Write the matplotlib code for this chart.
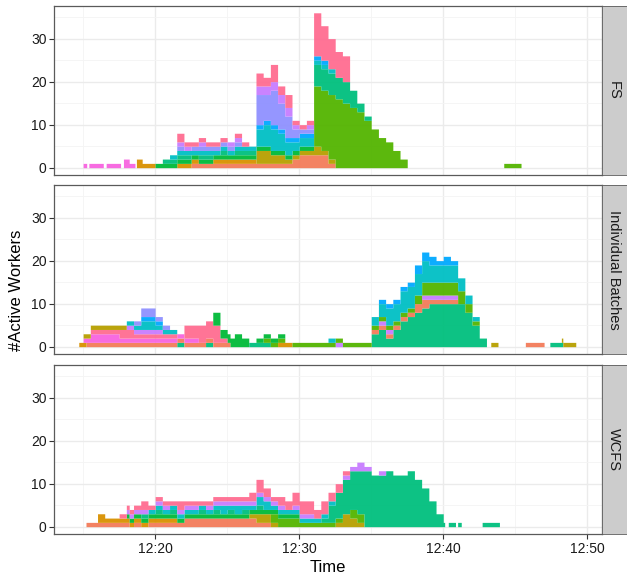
import numpy as np
import matplotlib
matplotlib.use("Agg")
import matplotlib.pyplot as plt
from matplotlib.ticker import FixedLocator, FuncFormatter

plt.rcParams['font.family'] = ['Liberation Sans', 'DejaVu Sans']

# ---------------- data (minutes after 12:00, #active workers per batch) ----
PANELS = ["FS", "Individual Batches", "WCFS"]
X_TICKS = [20, 30, 40, 50]
Y_TICKS = [0, 10, 20, 30]

COLORS = {
    "O": "#F37B59", "D": "#D89000", "G": "#B79F00", "Y": "#53B400",
    "E": "#00BA38", "T": "#00BF7D", "C": "#00BFC4", "S": "#00A9FF",
    "P": "#8F91FF", "V": "#C77CFF", "M": "#F763E0", "R": "#FF6C91",
}

# segments: (start minute, values per 0.5-min bin[, bin width])
FS_M = [(15.0, [1], 0.25), (15.4, [1, 1]), (16.6, [1, 1]), (17.8, [2, 1], 0.4)]
FS_D = [(18.7, [2], 0.4), (19.1, [1, 1], 0.45),
        (21.5, [1, 1, 1, 0, 0, 1, 1, 1, 1, 1, 1])]
FS_O = [(22.5, [1, 1, 1, 1, 1, 1, 1, 1, 1, 1, 1, 1, 1, 1, 2, 3, 3, 3, 3, 1])]
FS_G = [(27.0, [3, 3, 2, 2, 1, 1, 1, 1, 2, 1, 1])]
FS_Y = [(31.0, [14, 14, 15, 16, 15, 14, 13, 11, 9, 7, 6, 4, 2]), (44.2, [1, 1], 0.6)]
FS_E = [(20.0, [1] * 22)]
FS_T = [(20.5, [1, 1, 1, 1, 0, 1, 1, 0, 1, 0, 1, 1, 1]),
        (31.0, [5, 5, 5, 5, 5, 4, 2, 1])]
FS_C = [(21.0, [1, 1, 1, 1, 1, 1, 1, 1, 1, 1, 1, 1, 4, 5, 5, 4, 3, 2, 2, 2, 1, 1, 1])]
FS_S = [(27.0, [1, 1, 1, 1, 1, 1, 1, 1, 1, 1])]
FS_P = [(21.5, [1, 0, 1, 1, 1, 1, 1, 1, 1, 0, 0, 7, 6, 8, 6, 5, 2, 1, 1])]
FS_V = [(21.5, [1, 1, 0, 1, 0, 0, 0, 1, 1, 0, 0, 2, 2, 2, 2, 2, 1, 0, 1])]
FS_R = [(21.5, [2, 1, 1, 1, 1, 1, 1, 0, 1, 1, 0, 3, 2, 4, 2, 3, 1, 1, 1, 10, 8, 7, 6, 6])]

IB_T = [(21.5, [1]), (23.5, [1]), (26.5, [1, 1, 1]),
        (35.0, [3, 4, 2, 4, 6, 7, 8, 9, 10, 10, 10, 10, 10, 8, 5, 2]),
        (47.4, [1, 1], 0.45)]
IB_O = [(15.2, [1] * 20), (35.0, [1, 1, 1, 1, 1, 1, 2, 2, 1, 1, 1, 1]),
        (45.7, [1, 1], 0.65)]
IB_D = [(14.7, [1]), (28.5, [1, 1])]
IB_M = [(15.0, [1, 2, 2, 2, 2, 1, 1, 1, 1, 1, 1, 1, 1, 1, 1, 1])]
IB_R = [(15.5, [1, 1, 1, 1, 2, 2, 1, 1, 1, 1, 1, 1, 0, 3, 3, 4, 4, 4, 1])]
IB_G = [(15.0, [1, 1, 1, 1, 1, 1]), (43.3, [1]), (48.2, [1, 1])]
IB_V = [(18.0, [1, 1, 1, 1, 1]), (32.5, [1]),
        (35.5, [1, 1, 0, 0, 0, 0, 1, 1, 1, 1, 1])]
IB_Y = [(27.5, [1, 1, 1, 0, 1, 1, 1, 1, 1, 1, 1, 1, 1, 1, 1]),
        (35.0, [1, 1, 1, 1, 1, 1, 2, 3, 3, 3, 3, 3, 3, 2, 1])]
IB_E = [(24.0, [3, 2, 2, 3, 2]), (27.0, [1, 1, 1, 1])]
IB_C = [(18.0, [1, 1, 2, 2, 1, 1, 1]), (32.0, [1]),
        (35.0, [2, 3, 4, 4, 5, 5, 5, 5, 4, 4, 4, 4, 3, 2, 1])]
IB_S = [(19.0, [1, 1, 1]), (35.5, [1, 1, 1, 1, 1, 2, 2, 2, 1, 2, 1])]
IB_P = [(18.5, [1, 2, 2, 1, 1])]

W_O = [(15.2, [1, 1, 1, 1, 1, 1]),
       (18.5, [1, 0, 1, 1, 1, 1, 1, 2, 2, 2, 2, 2, 2, 2, 2, 2, 2, 1, 1])]
W_D = [(16.0, [2, 1, 1, 1, 1, 1, 1, 1, 1, 1, 1])]
W_G = [(26.5, [1, 2, 2, 1]), (32.5, [1, 3, 2, 1])]
W_Y = [(28.0, [2, 2, 2, 2, 1, 1, 1, 1, 1, 1]), (33.5, [2, 2])]
W_E = [(18.0, [1] * 24)]
W_T = [(19.0, [1]), (20.0, [1]), (21.0, [1]), (23.0, [1]), (24.0, [1]),
       (25.0, [1]), (26.0, [1]), (27.0, [1]),
       (31.5, [1, 4, 6, 8, 9, 10, 13, 12, 12, 13, 12, 12, 13, 11, 9, 6, 3]),
       (40.0, [1], 0.1), (40.35, [1], 0.5), (41.0, [1], 0.25), (42.7, [1], 1.2)]
W_C = [(19.5, [1, 1, 1, 1, 1, 1, 1, 1, 1, 1, 2, 1, 2, 1, 1, 2, 2, 1, 1, 1,
               1, 1, 1, 1, 1, 1])]
W_V = [(18.0, [1, 1, 1, 0, 1, 1, 0, 1, 1, 1, 0, 1, 1, 1, 1, 1, 1, 1, 1, 1,
               1, 1, 0, 1, 1, 1, 0, 0, 0, 0, 1, 1, 2, 1, 0, 1])]
W_R = [(17.5, [1, 1, 1, 2, 1, 1, 1, 1, 2, 1, 1, 1, 1, 1, 1, 1, 1, 1, 2, 3,
               2, 1, 2, 2, 3, 3, 3, 2, 3, 2, 2, 1])]

STACKS = {
    "FS": [("O", FS_O), ("D", FS_D), ("G", FS_G), ("Y", FS_Y), ("E", FS_E),
           ("T", FS_T), ("C", FS_C), ("S", FS_S), ("P", FS_P), ("V", FS_V),
           ("M", FS_M), ("R", FS_R)],
    "Individual Batches": [("T", IB_T), ("O", IB_O), ("D", IB_D), ("M", IB_M),
                           ("R", IB_R), ("G", IB_G), ("V", IB_V), ("Y", IB_Y),
                           ("E", IB_E), ("C", IB_C), ("S", IB_S), ("P", IB_P)],
    "WCFS": [("O", W_O), ("D", W_D), ("G", W_G), ("Y", W_Y), ("E", W_E),
             ("T", W_T), ("C", W_C), ("V", W_V), ("R", W_R)],
}

# ---------------- rendering -------------------------------------------------
FINE = 0.05
tf = np.round(np.arange(14.0, 50.5, FINE), 3)
edges = np.append(tf, tf[-1] + FINE)


def layer_values(segments):
    v = np.zeros(len(tf))
    for seg in segments:
        start, vals = seg[0], seg[1]
        step = seg[2] if len(seg) > 2 else 0.5
        for k, val in enumerate(vals):
            a = start + k * step
            mask = (tf >= a - 1e-6) & (tf < a + step - 1e-6)
            v[mask] = val
    return v


W, H = 627, 576
fig = plt.figure(figsize=(W / 100, H / 100), dpi=100)
left, right, strip_r = 54.3, 601.7, 626.5
tops = [5.7, 184.7, 364.7]
ph = 169.5
border = "#5A5A5A"

for k, name in enumerate(PANELS):
    rect = [left / W, 1 - (tops[k] + ph) / H, (right - left) / W, ph / H]
    ax = fig.add_axes(rect)
    cum = np.zeros(len(tf))
    for key, segs in STACKS[name]:
        v = layer_values(segs)
        lo = np.append(cum, cum[-1])
        hi = np.append(cum + v, (cum + v)[-1])
        ax.fill_between(edges, lo, hi, step='post', color=COLORS[key],
                        alpha=0.95, linewidth=0, zorder=2)
        cum = cum + v
    ax.set_xlim(13.0, 51.0)
    ax.set_ylim(-1.75, 37.65)
    ax.xaxis.set_major_locator(FixedLocator(X_TICKS))
    ax.xaxis.set_minor_locator(FixedLocator([15, 25, 35, 45]))
    ax.yaxis.set_major_locator(FixedLocator(Y_TICKS))
    ax.yaxis.set_minor_locator(FixedLocator([5, 15, 25, 35]))
    ax.grid(which='major', color='#EBEBEB', linewidth=1.0, zorder=0)
    ax.grid(which='minor', color='#F4F4F4', linewidth=0.6, zorder=0)
    ax.set_axisbelow(True)
    for sp in ax.spines.values():
        sp.set_color(border)
        sp.set_linewidth(0.9)
    ax.tick_params(which='minor', length=0)
    ax.tick_params(axis='y', which='major', length=3.5, width=0.8,
                   color='#333333', labelsize=10, labelcolor='#1A1A1A', pad=2)
    if k == len(PANELS) - 1:
        ax.tick_params(axis='x', which='major', length=3.5, width=0.8,
                       color='#333333', labelsize=10, labelcolor='#1A1A1A', pad=2)
        ax.xaxis.set_major_formatter(FuncFormatter(lambda m, p: f"12:{int(m):02d}"))
        ax.set_xlabel("Time", fontsize=12, labelpad=3)
    else:
        ax.tick_params(axis='x', which='major', length=0, labelbottom=False)
    # strip
    sax = fig.add_axes([right / W, 1 - (tops[k] + ph) / H,
                        (strip_r - right) / W, ph / H])
    sax.set_facecolor('#CCCCCC')
    sax.set_xticks([])
    sax.set_yticks([])
    for sp in sax.spines.values():
        sp.set_color(border)
        sp.set_linewidth(0.6)
    sax.text(0.5, 0.5, name, rotation=-90, ha='center', va='center',
             fontsize=10.5, color='#1A1A1A', transform=sax.transAxes)

fig.text(17 / W, 1 - 290 / H, "#Active Workers", rotation=90, ha='center',
         va='center', fontsize=12)

fig.savefig("out.png", dpi=100)
